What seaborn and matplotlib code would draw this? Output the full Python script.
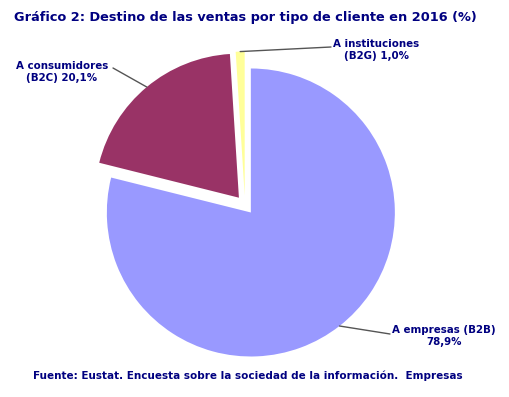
import numpy as np
import matplotlib
matplotlib.use("Agg")
import matplotlib.pyplot as plt
import seaborn as sns

# data
categories = ["A empresas (B2B)", "A consumidores (B2C)", "A instituciones (B2G)"]
values = [78.9, 20.1, 1.0]
labels = ["A empresas (B2B)\n78,9%", "A consumidores\n(B2C) 20,1%", "A instituciones\n(B2G) 1,0%"]
colors = ["#9999FF", "#993366", "#FFFF99"]

title = "Gráfico 2: Destino de las ventas por tipo de cliente en 2016 (%)"
source = "Fuente: Eustat. Encuesta sobre la sociedad de la información.  Empresas"

sns.set_theme(style="white")
plt.rcParams["font.family"] = ["DejaVu Sans"]
navy = "#000080"

W, H = 509, 397
fig = plt.figure(figsize=(W / 100, H / 100), dpi=100)
ax = fig.add_axes([0, 0, 1, 1])

# pie centre at pixel (245, 205), radius 144 px
cx, cy, R = 245, 205, 144

explode = 0.066
wedges, _ = ax.pie(values, colors=colors, startangle=90, counterclock=False,
                   explode=[explode] * 3, radius=1, center=(0, 0),
                   wedgeprops=dict(linewidth=0))
ax.set_xlim(-cx / R, (W - cx) / R)
ax.set_ylim(-(H - cy) / R, cy / R)
ax.set_aspect("auto")
ax.axis("off")

# label text centres and leader joints in image pixels (from top)
text_pos = [(444, 336), (62, 72), (376, 50)]
joints = [(390, 334), (113, 68), (331, 47)]

for w, lab, (tx, ty), (jx, jy) in zip(wedges, labels, text_pos, joints):
    mid = np.deg2rad((w.theta1 + w.theta2) / 2)
    ox, oy = w.center
    ex, ey = ox + w.r * np.cos(mid), oy + w.r * np.sin(mid)
    ax.annotate("", xy=(ex, ey), xycoords="data",
                xytext=(jx, H - jy), textcoords="figure pixels",
                arrowprops=dict(arrowstyle="-", color="#555555", lw=1,
                                shrinkA=0, shrinkB=0))
    fig.text(tx / W, 1 - ty / H, lab, ha="center", va="center",
             fontsize=7.4, fontweight="bold", color=navy, linespacing=1.25)

fig.text(14 / W, 1 - 17 / H, title, ha="left", va="center",
         fontsize=9.3, fontweight="bold", color=navy)
fig.text(33 / W, 1 - 376 / H, source, ha="left", va="center",
         fontsize=7.5, fontweight="bold", color=navy)

fig.savefig("out.png", dpi=100)
